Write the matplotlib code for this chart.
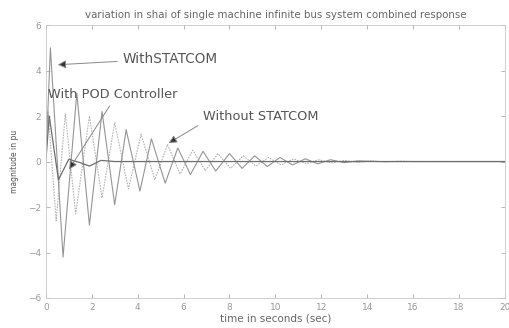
import matplotlib
matplotlib.use("Agg")
import matplotlib.pyplot as plt

# peaks / troughs (time s, magnitude pu)
t_statcom = [0, 0.2, 0.75, 1.35, 1.9, 2.45, 3.0, 3.5, 4.1, 4.6, 5.2, 5.75, 6.3, 6.85,
             7.4, 8.0, 8.55, 9.1, 9.65, 10.2, 10.75, 11.3, 11.85, 12.4, 13.0, 13.6,
             14.5, 16, 18, 20]
y_statcom = [0, 5.0, -4.2, 3.0, -2.8, 2.2, -1.9, 1.4, -1.3, 1.0, -0.95, 0.6, -0.57, 0.45,
             -0.42, 0.35, -0.3, 0.25, -0.22, 0.18, -0.15, 0.12, -0.1, 0.08, -0.05, 0.03,
             0.0, 0.0, 0.0, 0.0]

t_without = [0, 0.1, 0.45, 0.85, 1.3, 1.9, 2.45, 3.0, 3.6, 4.15, 4.75, 5.3, 5.85, 6.4,
             6.95, 7.5, 8.05, 8.6, 9.15, 9.7, 10.25, 10.8, 11.35, 11.9, 12.45, 13.0,
             13.6, 14.2, 14.8, 15.4, 16.0, 17, 18, 19, 20]
y_without = [0, 2.2, -2.6, 2.1, -2.3, 2.0, -1.6, 1.7, -1.2, 1.2, -0.8, 0.75, -0.55, 0.5,
             -0.4, 0.35, -0.3, 0.25, -0.2, 0.18, -0.15, 0.12, -0.1, 0.08, -0.06, 0.05,
             -0.04, 0.03, -0.02, 0.02, 0.0, 0.0, 0.0, 0.0, 0.0]

t_pod = [0, 0.15, 0.55, 1.0, 1.5, 1.9, 2.4, 3.0, 20]
y_pod = [0, 2.0, -0.8, 0.1, -0.05, -0.2, 0.05, 0, 0]

xticks = list(range(0, 21, 2))
yticks = [-6, -4, -2, 0, 2, 4, 6]

fig = plt.figure(figsize=(5.09, 3.28), dpi=100)
ax = fig.add_axes([0.090, 0.0915, 0.902, 0.832])

ax.plot(t_without, y_without, color="#b4b4b4", lw=0.8, ls=(0, (1.5, 1)))
ax.plot(t_statcom, y_statcom, color="#959595", lw=0.8)
ax.plot(t_pod, y_pod, color="#6e6e6e", lw=0.9)

ax.set_xlim(0, 20)
ax.set_ylim(-6, 6)
ax.set_xticks(xticks)
ax.set_yticks(yticks)
ax.tick_params(direction="in", top=True, right=True, labelsize=6.5,
               colors="#999999", length=3, width=0.5)
for s in ax.spines.values():
    s.set_color("#c8c8c8")
    s.set_linewidth(0.6)

ax.set_title("variation in shai of single machine infinite bus system combined response",
             fontsize=7.4, color="#666666", pad=5)
ax.set_xlabel("time in seconds (sec)", fontsize=7.5, color="#666666", labelpad=1)
ax.set_ylabel("magnitude in pu", fontsize=5.5, color="#555555", labelpad=6)

arrow = dict(arrowstyle="-|>", fc="#333333", ec="#888888", lw=0.7, mutation_scale=12)
ax.annotate("WithSTATCOM", xy=(0.4, 4.25), xytext=(3.35, 4.53), fontsize=9.8,
            color="#555555", va="center", arrowprops=arrow)
ax.annotate("With POD Controller", xy=(0.95, -0.45), xytext=(0.1, 2.95), fontsize=9.3,
            color="#555555", va="center", arrowprops=dict(arrow, relpos=(0.5, 0.0)))
ax.annotate("Without STATCOM", xy=(5.25, 0.75), xytext=(6.85, 2.0), fontsize=9.3,
            color="#555555", va="center", arrowprops=dict(arrow, relpos=(0.0, 0.0)))

fig.savefig("out.png", dpi=100)
